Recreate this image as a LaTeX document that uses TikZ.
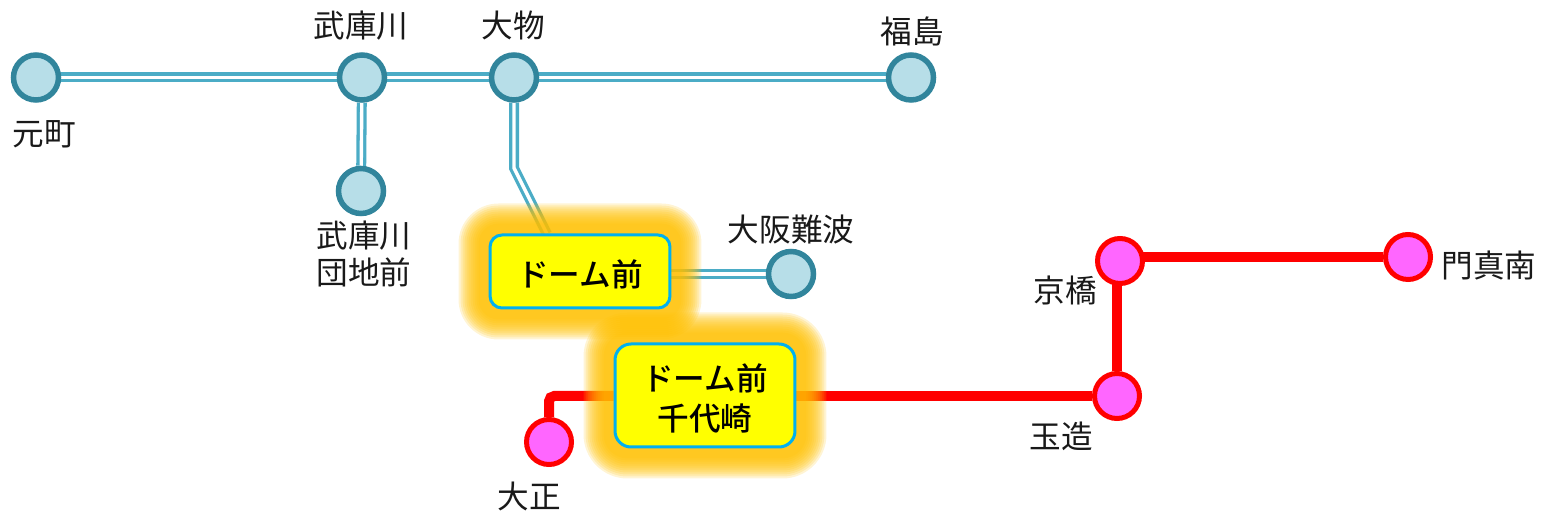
\documentclass[tikz,border=0pt]{standalone}
\usepackage{fontspec}
\newfontfamily\jpfont{Noto Sans CJK JP}
\newfontfamily\jpmedium{Noto Sans CJK JP Medium}
\usetikzlibrary{positioning}
\definecolor{bluestroke}{HTML}{31859C}
\definecolor{bluefill}{HTML}{B7DEE8}
\definecolor{blueline}{HTML}{4BACC6}
\definecolor{pinkfill}{HTML}{FF66FF}
\definecolor{glowcolor}{HTML}{FFC000}
\definecolor{boxborder}{HTML}{00B0F0}
\definecolor{boxfill}{HTML}{FFFF00}
\definecolor{redline}{HTML}{FF0000}
\pgfdeclarelayer{linelayer}
\pgfdeclarelayer{glowlayer}
\pgfsetlayers{linelayer,glowlayer,main}
\tikzset{
    bluest/.style={
    circle,draw=bluestroke,fill=bluefill,line width=5.5*0.02cm,minimum size=0.9cm,inner sep=0pt
    },
    redst/.style={
    circle,draw=redline,fill=pinkfill,line width=5*0.02cm,minimum size=0.9cm,inner sep=0pt
    },
    stname/.style={
    font=\jpfont\fontsize{18}{21.6}\selectfont,align=center,text=black!90,inner sep=0pt
    },
    domebox/.style={
    rectangle,draw=boxborder,fill=boxfill,line width=3*0.02cm,minimum width=3.6cm,inner sep=0pt
    },
    domelabel/.style={
    font=\jpmedium\fontsize{18}{22.8}\selectfont,align=center,inner sep=0pt,yshift=-0.05cm
    },
    blueconn/.style={
    draw=blueline,double=white,double distance=3.4*0.02cm,line width=3.3*0.02cm
    },
    redconn/.style={
    draw=redline,line width=10*0.02cm,rounded corners=3pt
    },
    glowring/.style={
    fill=glowcolor,fill opacity=0.17,draw=none
    },
}
\begin{document}
\begin{tikzpicture}[x=0.02cm,y=-0.02cm]
   \useasboundingbox (0,0) rectangle (1547,519);

   %stations of the blue line
   \node[bluest] (motomachi) at (36,77.5) {};
   \node[bluest] (mukogawa) at (362,77.5) {};
   \node[bluest] (daimotsu) at (514,77.5) {};
   \node[bluest] (fukushima) at (911,77.5) {};
   \node[bluest] (danchi) at (361,191) {};
   \node[bluest] (namba) at (791,274) {};

   %stations of the red line
   \node[redst] (kyobashi) at (1120,261) {};
   \node[redst] (kadoma) at (1408,257) {};
   \node[redst] (tamatsukuri) at (1117,396) {};
   \node[redst] (taisho) at (549,442) {};

   %the two highlighted stations
   \node[domebox,rounded corners=12*0.02cm,minimum height=73*0.02cm,
         label={[domelabel]center:ドーム前}] (dome) at (580,271.5) {};
   \node[domebox,rounded corners=16*0.02cm,minimum height=103*0.02cm,
         label={[domelabel]center:ドーム前\\千代崎}] (chiyozaki) at (705,395.5) {};

   %names
   \node[stname] (lmotomachi) at (44,134) {元町};
   \node[stname] (lmukogawa) at (361,26) {武庫川};
   \node[stname] (ldaimotsu) at (513,25) {大物};
   \node[stname] (lfukushima) at (912,31) {福島};
   \node[stname] (ldanchi) at (364,254) {武庫川\\団地前};
   \node[stname] (lnamba) at (791,230) {大阪難波};
   \node[stname] (lkyobashi) at (1065,290) {京橋};
   \node[stname] (lkadoma) at (1489,266) {門真南};
   \node[stname] (ltamatsukuri) at (1061,436) {玉造};
   \node[stname] (ltaisho) at (529,496) {大正};

   \coordinate (bend) at (514,168);
   \coordinate (domein) at (547,234);

   \begin{pgfonlayer}{linelayer}
   \draw[blueconn] (motomachi) -- (mukogawa);
   \draw[blueconn] (mukogawa) -- (daimotsu);
   \draw[blueconn] (daimotsu) -- (fukushima);
   \draw[blueconn] (mukogawa) -- (danchi);
   \draw[blueconn] (namba -| dome.east) -- (namba);
   \draw[blueconn] (daimotsu.south) -- (bend) -- (domein);
   \draw[redconn] (tamatsukuri) -- (tamatsukuri |- kyobashi);
   \draw[redconn] (kyobashi |- kadoma) -- (kadoma);
   \draw[redconn] (chiyozaki.east |- tamatsukuri) -- (tamatsukuri);
   \draw[redconn] (taisho) |- (chiyozaki.west |- tamatsukuri);
   \end{pgfonlayer}

   %glow round the boxes
   \begin{pgfonlayer}{glowlayer}
   \foreach \r in {30,28,...,10}{
     \fill[glowring,rounded corners=(\r+10)*0.02cm] ([shift={(-\r*0.02cm,-\r*0.02cm)}]dome.south west) rectangle ([shift={(\r*0.02cm,\r*0.02cm)}]dome.north east);
     \fill[glowring,rounded corners=(\r+14)*0.02cm] ([shift={(-\r*0.02cm,-\r*0.02cm)}]chiyozaki.south west) rectangle ([shift={(\r*0.02cm,\r*0.02cm)}]chiyozaki.north east);
   }
   \end{pgfonlayer}
\end{tikzpicture}
\end{document}
